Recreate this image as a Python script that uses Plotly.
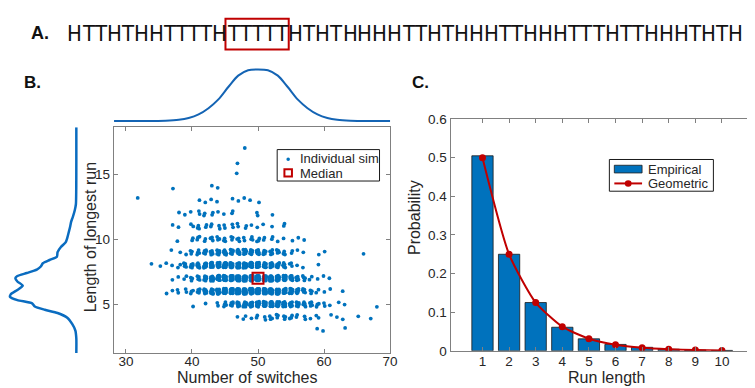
import numpy as np
import plotly.graph_objects as go

W, H = 755, 388

# ---------------- Panel A: example sequence ----------------
sequence = "HTTHTHHTTTTHTTTTTHTHTHHHHTTHTHHHTTHHHTTTHTTHHHTHTH"

# ---------------- Panel B: simulations (switches vs longest run) ----------------
# one list of switch values and one list of counts per longest-run value
L17_sw, L17_n = [48], [1]
L16_sw, L16_n = [47], [1]
L15_sw, L15_n = [47], [1]
L14_sw, L14_n = [37, 43, 44], [1, 1, 1]
L13_sw = [32, 41, 42, 43, 44, 46, 47, 48, 49, 50]
L13_n = [1, 1, 1, 1, 1, 1, 1, 1, 1, 1]
L12_sw = [38, 39, 40, 41, 42, 43, 44, 45, 46, 50, 52]
L12_n = [1, 1, 1, 2, 2, 2, 1, 1, 2, 2, 1]
L11_sw = [37, 38, 40, 41, 42, 43, 44, 45, 46, 47, 48, 49, 50, 51, 52, 54]
L11_n = [1, 1, 2, 3, 2, 2, 2, 2, 2, 2, 2, 1, 1, 1, 1, 2]
L10_sw = [38, 40, 41, 42, 43, 44, 45, 46, 47, 48, 49, 50, 51, 52, 53, 54, 55, 56, 57]
L10_n = [1, 2, 3, 2, 3, 3, 3, 3, 3, 2, 3, 3, 2, 2, 1, 1, 1, 1, 1]
L9_sw = [37, 38, 39, 40, 41, 42, 43, 44, 45, 46, 47, 48, 49, 50, 51, 52, 53, 54, 55, 56, 57, 59, 60, 66]
L9_n = [1, 1, 1, 3, 4, 5, 6, 7, 7, 8, 8, 8, 7, 7, 6, 5, 4, 3, 2, 1, 1, 1, 1, 1]
L8_sw = [34, 35, 36, 37, 38, 39, 40, 41, 42, 43, 44, 45, 46, 47, 48, 49, 50, 51, 52, 53, 54, 55, 56, 57, 59]
L8_n = [1, 1, 1, 1, 2, 4, 5, 7, 9, 11, 12, 14, 15, 15, 15, 14, 13, 11, 9, 7, 5, 3, 1, 1, 1]
L7_sw = [37, 38, 39, 40, 41, 42, 43, 44, 45, 46, 47, 48, 49, 50, 51, 52, 53, 54, 55, 56, 57, 58, 59, 60, 61]
L7_n = [1, 1, 2, 3, 4, 7, 10, 13, 16, 19, 21, 22, 22, 22, 21, 19, 16, 13, 9, 6, 4, 2, 1, 1, 1]
L6_sw = [36, 37, 38, 39, 40, 41, 42, 43, 44, 45, 46, 47, 48, 49, 50, 51, 52, 53, 54, 55, 56, 57, 58, 59, 60, 61, 63]
L6_n = [1, 1, 2, 2, 3, 5, 7, 10, 13, 16, 19, 21, 22, 22, 22, 21, 19, 16, 13, 10, 7, 5, 3, 2, 1, 1, 1]
L5_sw = [40, 42, 44, 45, 46, 47, 48, 49, 50, 51, 52, 53, 54, 55, 56, 57, 58, 59, 60, 61, 62, 63, 68]
L5_n = [1, 1, 2, 4, 5, 7, 9, 10, 11, 12, 12, 11, 10, 9, 7, 5, 4, 3, 2, 1, 1, 1, 1]
L4_sw = [47, 48, 49, 50, 51, 52, 53, 54, 55, 56, 57, 58, 59, 61, 62, 63, 65, 67]
L4_n = [1, 2, 1, 2, 2, 3, 3, 3, 3, 2, 2, 1, 2, 1, 1, 1, 1, 1]
L3_sw, L3_n = [59, 60, 63], [1, 1, 1]

median_switches = [50]
median_run = [7]

# marginal densities (relative height)
top_dens_x = [28.2, 33, 36, 38, 39.5, 41, 42.5, 44, 45.5, 47, 48.5, 50, 51.5, 53, 54.5, 56, 57.5, 59,
              60.5, 62, 64, 67, 70]
top_dens_h = [0, 0.001, 0.008, 0.025, 0.06, 0.13, 0.25, 0.42, 0.66, 0.88, 0.985, 1.0, 0.985, 0.88,
              0.66, 0.42, 0.25, 0.13, 0.06, 0.025, 0.008, 0.001, 0]
left_dens_y = [18.6, 16.0, 14.0, 13.2, 12.7, 12.2, 11.7, 11.35, 11.0, 10.6, 10.1, 9.75, 9.4, 9.0, 8.65,
               8.4, 8.15, 7.9, 7.66, 7.4, 7.17, 7.0, 6.75, 6.43, 6.1, 5.76, 5.57, 5.32, 5.07, 4.83,
               4.58, 4.33, 3.97, 3.47, 2.98, 2.36, 1.25]
left_dens_d = [0, 0, 0.001, 0.003, 0.006, 0.024, 0.053, 0.077, 0.091, 0.11, 0.135, 0.16, 0.23, 0.28,
               0.29, 0.40, 0.50, 0.53, 0.59, 0.74, 0.88, 0.91, 0.88, 0.80, 0.88, 0.98, 0.99, 0.88,
               0.66, 0.62, 0.47, 0.28, 0.135, 0.06, 0.014, 0, 0]

# ---------------- Panel C: run length distribution ----------------
run_length = [1, 2, 3, 4, 5, 6, 7, 8, 9, 10]
empirical = [0.505, 0.250, 0.125, 0.061, 0.031, 0.0165, 0.009, 0.004, 0.002, 0.001]
geometric = [0.5, 0.25, 0.125, 0.0625, 0.03125, 0.015625, 0.0078125, 0.00390625, 0.001953125, 0.0009765625]

# ---------------- helpers ----------------
BLUE = "#0072BD"
RED = "#C00000"
FONT = "Liberation Sans, Arial, sans-serif"
SEQ_FONT = "DejaVu Sans Condensed, Liberation Sans Narrow, Liberation Sans, sans-serif"


def fx(px):
    return px / W


def fy(py):
    return 1 - py / H


rows = [(17, L17_sw, L17_n), (16, L16_sw, L16_n), (15, L15_sw, L15_n), (14, L14_sw, L14_n),
        (13, L13_sw, L13_n), (12, L12_sw, L12_n), (11, L11_sw, L11_n), (10, L10_sw, L10_n),
        (9, L9_sw, L9_n), (8, L8_sw, L8_n), (7, L7_sw, L7_n), (6, L6_sw, L6_n), (5, L5_sw, L5_n),
        (4, L4_sw, L4_n), (3, L3_sw, L3_n)]

# deterministic display jitter (low-discrepancy offsets) so overlapping sims stay visible
JX, JY = 0.46, 0.4
pts_x, pts_y = [], []
k = 0
for L, sws, ns in rows:
    for s, n in zip(sws, ns):
        for _ in range(n):
            ox = ((0.5 + k * 0.7548776662) % 1.0) - 0.5
            oy = ((0.5 + k * 0.5698402910) % 1.0) - 0.5
            pts_x.append(s + JX * ox)
            pts_y.append(L + JY * oy)
            k += 1

fig = go.Figure()

# scatter B
fig.add_trace(go.Scatter(x=pts_x, y=pts_y, mode="markers", xaxis="x", yaxis="y",
                         marker=dict(size=3.8, color=BLUE), showlegend=False,
                         name="Individual sim"))
fig.add_trace(go.Scatter(x=median_switches, y=median_run, mode="markers", xaxis="x", yaxis="y",
                         marker=dict(symbol="square-open", size=11, color=RED,
                                     line=dict(width=2, color=RED)),
                         showlegend=False, name="Median"))
# marginals
fig.add_trace(go.Scatter(x=top_dens_x, y=top_dens_h, mode="lines", xaxis="x2", yaxis="y2",
                         line=dict(color="#1464B4", width=2, shape="spline", smoothing=0.8),
                         showlegend=False))
fig.add_trace(go.Scatter(x=left_dens_d, y=left_dens_y, mode="lines", xaxis="x3", yaxis="y3",
                         line=dict(color="#0A6CC0", width=2.5, shape="spline", smoothing=0.6),
                         showlegend=False))
# panel C
fig.add_trace(go.Bar(x=run_length, y=empirical, xaxis="x4", yaxis="y4", width=0.8,
                     marker=dict(color=BLUE, line=dict(color="#1a1a1a", width=0.8)),
                     showlegend=False, name="Empirical"))
fig.add_trace(go.Scatter(x=run_length, y=geometric, mode="lines+markers", xaxis="x4", yaxis="y4",
                         line=dict(color=RED, width=2, shape="spline", smoothing=0.6),
                         marker=dict(size=7, color=RED), showlegend=False, name="Geometric"))

tickfont = dict(family=FONT, size=13.5, color="#262626")
axcommon = dict(showline=True, linecolor="#808080", linewidth=1, mirror="ticks", ticks="inside",
                ticklen=4, tickcolor="#808080", showgrid=False, zeroline=False, tickfont=tickfont)

xB = [28.15, 70.05]
yB = [1.25, 18.6]

fig.update_layout(
    width=W, height=H, autosize=False,
    margin=dict(l=0, r=0, t=0, b=0),
    paper_bgcolor="white", plot_bgcolor="white",
    font=dict(family=FONT, color="#262626"),
    xaxis=dict(domain=[fx(106.7), fx(386)], range=xB, tickvals=[30, 40, 50, 60, 70], anchor="y",
               ticklabelstandoff=-4, **axcommon),
    yaxis=dict(domain=[fy(351.7), fy(116.7)], range=yB, tickvals=[5, 10, 15], anchor="x",
               **axcommon),
    xaxis2=dict(domain=[fx(106.7), fx(386)], range=xB, visible=False, anchor="y2"),
    yaxis2=dict(domain=[fy(112), fy(55)], range=[-0.03, 1.03], visible=False, anchor="x2"),
    xaxis3=dict(domain=[fx(0), fx(71)], range=[1.02, -0.03], visible=False, anchor="y3"),
    yaxis3=dict(domain=[fy(351.7), fy(116.7)], range=yB, visible=False, anchor="x3"),
    xaxis4=dict(domain=[fx(446.7), fx(752.3)], range=[-0.2, 11.18], tickvals=run_length,
                anchor="y4", ticklabelstandoff=-2, **axcommon),
    yaxis4=dict(domain=[fy(349.3), fy(108.3)], range=[0, 0.6],
                tickvals=[0, 0.1, 0.2, 0.3, 0.4, 0.5, 0.6],
                ticktext=["0", "0.1", "0.2", "0.3", "0.4", "0.5", "0.6"], anchor="x4", **axcommon),
    bargap=0.2,
)

annotations = []
shapes = []

# sequence letters, placed by their proportional advance widths
adv = {"H": 0.678, "T": 0.550}
seq_x0, seq_x1 = 60.0, 742.0
scale = (seq_x1 - seq_x0) / sum(adv[c] for c in sequence)
starts = []
xcur = seq_x0
for c in sequence:
    w = adv[c] * scale
    starts.append((xcur, w))
    annotations.append(dict(text=c, x=fx(xcur + w / 2), y=fy(19.5), xref="paper", yref="paper",
                            xanchor="center", yanchor="middle", showarrow=False, borderpad=0,
                            font=dict(family=SEQ_FONT, size=22, color="#111111")))
    xcur += w

# longest run in the sequence
best_len, best_start, i = 0, 0, 0
while i < len(sequence):
    j = i
    while j < len(sequence) and sequence[j] == sequence[i]:
        j += 1
    if j - i > best_len:
        best_len, best_start = j - i, i
    i = j
bx0 = starts[best_start][0] - 2
bx1 = starts[best_start + best_len - 1][0] + starts[best_start + best_len - 1][1] + 0.5
shapes.append(dict(type="rect", xref="paper", yref="paper", x0=fx(bx0), x1=fx(bx1),
                   y0=fy(36), y1=fy(4), line=dict(color=RED, width=2)))

# panel labels
for lab, px, py, sz in [("A.", 32, 19, 18), ("B.", 24.5, 70.5, 17), ("C.", 416, 70.5, 17)]:
    annotations.append(dict(text="<b>%s</b>" % lab, x=fx(px), y=fy(py), xref="paper", yref="paper",
                            xanchor="center", yanchor="middle", showarrow=False,
                            font=dict(family=FONT, size=sz, color="#111111")))

# axis titles
for txt, px, py, ang in [("Number of switches", 241.7, 377, 0),
                         ("Length of longest run", 83, 231, -90),
                         ("Run length", 604.2, 377, 0),
                         ("Probability", 411, 211, -90)]:
    annotations.append(dict(text=txt, x=fx(px), y=fy(py), xref="paper", yref="paper",
                            xanchor="center", yanchor="middle", showarrow=False, textangle=ang,
                            borderpad=0,
                            font=dict(family=FONT, size=16, color="#262626")))

# legend B
shapes.append(dict(type="rect", xref="paper", yref="paper", x0=fx(271.7), x1=fx(375),
                   y0=fy(172.7), y1=fy(140), line=dict(color="#1a1a1a", width=1),
                   fillcolor="white"))
shapes.append(dict(type="circle", xref="paper", yref="paper", x0=fx(281), x1=fx(284.6),
                   y0=fy(151.8), y1=fy(148.2), line=dict(width=0), fillcolor=BLUE))
shapes.append(dict(type="rect", xref="paper", yref="paper", x0=fx(279), x1=fx(286.6),
                   y0=fy(168), y1=fy(160.4), line=dict(color=RED, width=2), fillcolor="white"))
for txt, py in [("Individual sim", 149.6), ("Median", 164.5)]:
    annotations.append(dict(text=txt, x=fx(294), y=fy(py), xref="paper", yref="paper",
                            xanchor="left", yanchor="middle", showarrow=False, borderpad=0,
                            font=dict(family=FONT, size=13, color="#262626")))

# legend C
shapes.append(dict(type="rect", xref="paper", yref="paper", x0=fx(607), x1=fx(712),
                   y0=fy(183.3), y1=fy(150.3), line=dict(color="#1a1a1a", width=1),
                   fillcolor="white"))
shapes.append(dict(type="rect", xref="paper", yref="paper", x0=fx(612), x1=fx(640),
                   y0=fy(164.3), y1=fy(156.3), line=dict(color="#1a1a1a", width=0.8),
                   fillcolor=BLUE))
shapes.append(dict(type="line", xref="paper", yref="paper", x0=fx(612), x1=fx(640),
                   y0=fy(175.2), y1=fy(175.2), line=dict(color=RED, width=2)))
shapes.append(dict(type="circle", xref="paper", yref="paper", x0=fx(622.6), x1=fx(629.4),
                   y0=fy(178.6), y1=fy(171.8), line=dict(width=0), fillcolor=RED))
for txt, py in [("Empirical", 160.2), ("Geometric", 175.2)]:
    annotations.append(dict(text=txt, x=fx(645), y=fy(py), xref="paper", yref="paper",
                            xanchor="left", yanchor="middle", showarrow=False, borderpad=0,
                            font=dict(family=FONT, size=13, color="#262626")))

fig.update_layout(annotations=annotations, shapes=shapes)
fig.write_html("out.html")
